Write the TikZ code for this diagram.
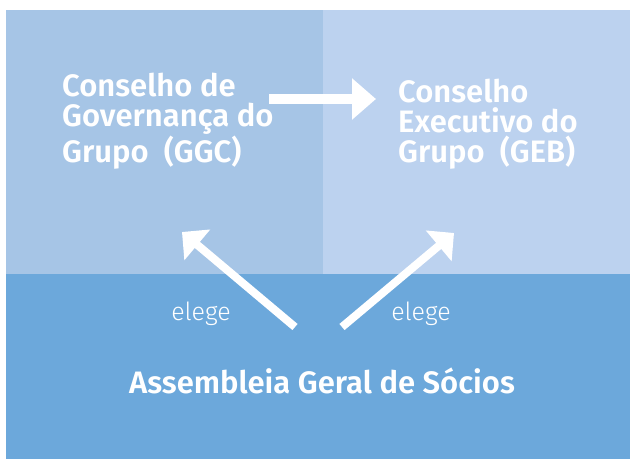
\documentclass[tikz,border=0pt]{standalone}
\usepackage{fontspec}
\setmainfont{Fira Sans}
\newfontfamily\boldsans{Fira Sans SemiBold}
\newfontfamily\lightsans{Fira Sans Light}
\usepackage{tikz}
\usetikzlibrary{positioning,arrows.meta}
\definecolor{ggcblue}{RGB}{166,197,230}
\definecolor{gebblue}{RGB}{188,210,239}
\definecolor{agsblue}{RGB}{108,168,219}

\begin{document}
\begin{tikzpicture}[x=1pt, y=-1pt,
    panel/.style={rectangle, inner sep=0pt, anchor=north west},
    board/.style={align=left, text=white, inner sep=0pt, anchor=base west, font=\boldsans\fontsize{31}{30}\selectfont},
    verb/.style={text=white, inner sep=0pt, anchor=base, font=\lightsans\fontsize{25}{28}\selectfont},
    bigarrow/.style={-{Triangle[length=24pt, width=40pt]}, line width=10pt, white},
    elect/.style={-{Triangle[length=20pt, width=39pt]}, line width=8pt, white}]

        \useasboundingbox (0,0) rectangle (630,459);

        % Background panels (a little overlap so no seam shows)
        \node[panel, fill=ggcblue, minimum width=318pt, minimum height=265pt] (ggcbox) at (6,10) {};
        \node[panel, fill=gebblue, minimum width=307pt, minimum height=265pt] (gebbox) at (323,10) {};
        \node[panel, fill=agsblue, minimum width=624pt, minimum height=185pt] (agsbox) at (6,274) {};

        % Board names (anchor is the last line's baseline)
        \node[board] (ggc) at (62,162) {Conselho de\\Governança do\\Grupo~ (GGC)};
        \node[board] (geb) at (398,162) {Conselho\\Executivo do\\Grupo~ (GEB)};
        \node[text=white, inner sep=0pt, anchor=base, font=\boldsans\fontsize{31}{34}\selectfont] (ags) at (322,393) {Assembleia Geral de Sócios};

        % Arrow ends
        \coordinate (ggc out) at (269,99);
        \coordinate (geb in) at (376,99);
        \coordinate (ags left) at (295,327);
        \coordinate (ags right) at (342,327);
        \coordinate (ggc in) at (182,232);
        \coordinate (geb up) at (454,233);

        % Arrows
        \draw[bigarrow] (ggc out) -- (geb in);
        \draw[elect] (ags left) -- (ggc in);
        \draw[elect] (ags right) -- (geb up);

        \node[verb] (elege1) at (201,320) {elege};
        \node[verb] (elege2) at (421,320) {elege};
    \end{tikzpicture}
\end{document}
